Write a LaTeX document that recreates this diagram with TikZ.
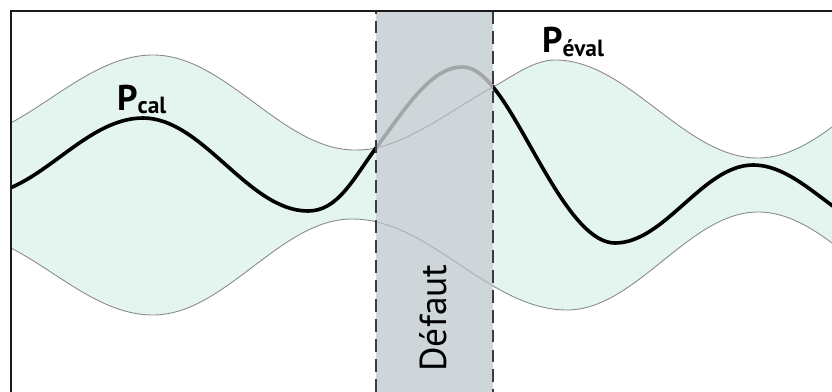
\documentclass[tikz,border=0pt]{standalone}
\usepackage{fontspec}
\setmainfont{PT Sans}
\definecolor{env-fill}{HTML}{E4F4EF}
\definecolor{env-line}{HTML}{8A8A8A}
\definecolor{band-grey}{HTML}{CED6DA}
\definecolor{band-line}{HTML}{A9B0B4}
\definecolor{fit-grey}{HTML}{A2A6A8}
\definecolor{jet}{HTML}{1A1A1A}

% envelope and fitted curve, in pixel units
\newcommand{\upperenv}{(-51,141) .. controls +(74,0) and +(-74,0) .. (153,55)
  .. controls +(73,0) and +(-73,0) .. (355,150)
  .. controls (362,150) and (369,149.6) .. (inL)
  .. controls (415,139) and (454,108.5) .. (inR)
  .. controls (514,75.5) and (534,60) .. (555,60)
  .. controls +(74,0) and +(-74,0) .. (758,158)
  .. controls +(73,0) and +(-73,0) .. (958,55)}
\newcommand{\lowerenv}{(-47,232) .. controls +(73,0) and +(-73,0) .. (153,315)
  .. controls +(72,0) and +(-72,0) .. (352,219)
  .. controls +(78,0) and +(-78,0) .. (567,310)
  .. controls +(69,0) and +(-69,0) .. (758,212)
  .. controls +(73,0) and +(-73,0) .. (958,315)}
\newcommand{\lowerenvback}{(958,315) .. controls +(-73,0) and +(73,0) .. (758,212)
  .. controls +(-69,0) and +(69,0) .. (567,310)
  .. controls +(-78,0) and +(78,0) .. (352,219)
  .. controls +(-72,0) and +(72,0) .. (153,315)
  .. controls +(-73,0) and +(73,0) .. (-47,232)}
\newcommand{\fitpath}{(-22,195) .. controls +(60,0) and +(-60,0) .. (143,118)
  .. controls +(60,0) and +(-60,0) .. (308,211)
  .. controls (338,211) and (353,179) .. (inL)
  .. controls (405,109) and (431,67) .. (462,67)
  .. controls (474,67) and (483,75) .. (inR)
  .. controls (528,129) and (570,243) .. (615,243)
  .. controls +(50,0) and +(-50,0) .. (753,165)
  .. controls +(50,0) and +(-50,0) .. (891,231)}
\newcommand{\subtext}[1]{\raisebox{-3.4pt}{\fontsize{20}{24}\selectfont #1}}

\begin{document}
\begin{tikzpicture}[x=0.03cm, y=-0.03cm,
      envline/.style={env-line, line width=0.75pt},
      fitline/.style={line width=3.1pt, line cap=round, line join=round},
      biglabel/.style={font=\bfseries\fontsize{30.5}{36}\selectfont, inner sep=0pt}]
    \useasboundingbox (0,0) rectangle (832,392);
    \coordinate (inL) at (376,148);
    \coordinate (inR) at (493,87);
    \coordinate (bandTL) at (376,11);
    \coordinate (bandTR) at (493,11);
    \coordinate (bandBL) at (376,392);
    \coordinate (bandBR) at (493,392);
    \begin{scope}
      \clip (11,11) rectangle (832,392);
      \fill[env-fill] \upperenv -- \lowerenvback -- cycle;
      \draw[envline] \upperenv;
      \draw[envline] \lowerenv;
      \draw[fitline, black] \fitpath;
    \end{scope}
    % the defect band
    \fill[band-grey] (bandTL) rectangle (bandBR);
    \begin{scope}
      \clip (bandTL) rectangle (bandBR);
      \draw[band-line, line width=0.75pt] \upperenv;
      \draw[band-line, line width=0.75pt] \lowerenv;
      \draw[fitline, fit-grey] \fitpath;
    \end{scope}
    \draw[jet!85, line width=2.1pt, dash pattern=on 11pt off 6pt]
      (bandBL) -- (bandTL) -- (bandTR) -- (bandBR);
    % frame
    \draw[jet, line width=1.3pt] (11,392) -- (11,11) -- (832,11);
    \node[biglabel, anchor=base west] (pcal) at (117,110) {P\subtext{cal}};
    \node[biglabel, anchor=base west] (peval) at (542,53) {P\subtext{éval}};
    \node[rotate=90, font=\fontsize{32}{38}\selectfont] (defaut) at (433,318) {Défaut};
\end{tikzpicture}
\end{document}
